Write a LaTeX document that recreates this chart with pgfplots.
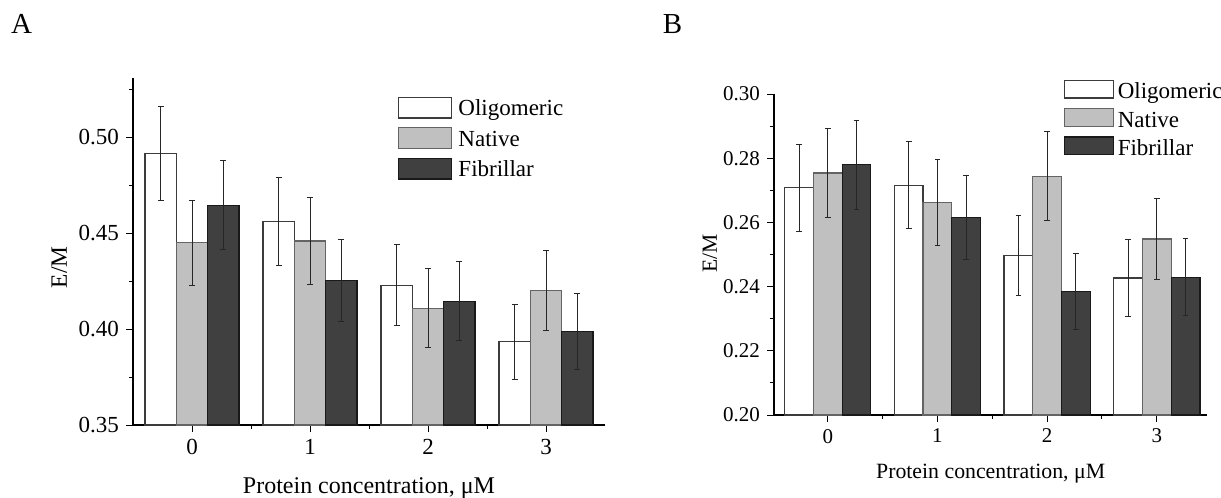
\documentclass[border=0pt]{standalone}
\usepackage{fontspec}
\setmainfont{Liberation Serif}
\usepackage{pgfplots}
\usepackage{pgfplotstable}
\pgfplotsset{compat=1.18}

\definecolor{oliedge}{RGB}{60,60,60}
\definecolor{natfill}{RGB}{192,192,192}
\definecolor{natedge}{RGB}{100,100,100}
\definecolor{fibfill}{RGB}{64,64,64}
\definecolor{fibedge}{RGB}{25,25,25}

% x, value, error for each group
\pgfplotstableread{
x olig oe nat ne fib fe
0 0.4915 0.0245 0.4451 0.0222 0.4647 0.0234
1 0.4560 0.0230 0.4460 0.0225 0.4255 0.0213
2 0.4229 0.0212 0.4109 0.0205 0.4146 0.0207
3 0.3935 0.0196 0.4203 0.0209 0.3988 0.0199
}\dataA
\pgfplotstableread{
x olig oe nat ne fib fe
0 0.2708 0.0136 0.2754 0.0138 0.2780 0.0139
1 0.2716 0.0136 0.2662 0.0133 0.2615 0.0130
2 0.2496 0.0125 0.2744 0.0138 0.2385 0.0119
3 0.2427 0.0121 0.2548 0.0127 0.2429 0.0120
}\dataB

\pgfplotsset{
  panel/.style={
    scale only axis,
    axis x line*=bottom, axis y line*=left,
    axis line style={-, line width=0.6pt, black},
    tick align=outside,
    major tick length=3.5pt, minor tick length=2pt,
    every tick/.style={line width=0.5pt, black},
    xtick={0,1,2,3}, minor xtick={0.5,1.5,2.5},
    /pgf/number format/assume math mode=true,
    yticklabel style={/pgf/number format/.cd, fixed, fixed zerofill, precision=2},
    ybar=0pt,
    legend cell align=left,
  },
  bars/.style={line width=0.6pt,
    /pgfplots/error bars/y dir=both, /pgfplots/error bars/y explicit,
    /pgfplots/error bars/error bar style={line width=0.5pt, black!85},
    /pgfplots/error bars/error mark options={rotate=90, mark size=1.45pt, line width=0.5pt, black!85}},
  oli/.style={bars, fill=white, draw=oliedge},
  nat/.style={bars, fill=natfill, draw=natedge},
  fib/.style={bars, fill=fibfill, draw=fibedge},
}

\begin{document}
\begin{tikzpicture}
\useasboundingbox (0,0) rectangle (610.5pt,-249pt);

\node[font=\fontsize{14.5}{17}\selectfont] at (10.85pt,-12pt) {A};
\node[font=\fontsize{14.5}{17}\selectfont] at (336.25pt,-12pt) {B};

% panel A
\begin{axis}[panel,
  at={(66.5pt,-212.5pt)}, anchor=south west,
  width=236pt, height=173.5pt,
  xmin=-0.5, xmax=3.5, ymin=0.35, ymax=0.531,
  ytick={0.35,0.40,0.45,0.50}, minor ytick={0.375,0.425,0.475,0.525},
  bar width=0.265,
  ticklabel style={font=\fontsize{11.5}{13}\selectfont},
  xlabel={Protein concentration, μM}, ylabel={E/M},
  every axis x label/.style={at={(axis description cs:0.5,-0.182)}, anchor=center, font=\fontsize{12}{14}\selectfont},
  every axis y label/.style={at={(axis description cs:-0.156,0.454)}, rotate=90, anchor=center, font=\fontsize{11.7}{14}\selectfont},
  legend image code/.code={\draw[#1, line width=0.6pt] (0pt,-1.15pt) rectangle (26.5pt,9.15pt);},
  legend style={at={(axis description cs:0.562,0.946)}, anchor=north west,
    draw=none, fill=none, inner sep=0pt, outer sep=0pt, row sep=4.35pt,
    cells={anchor=base west},
    nodes={inner sep=0pt, text height=9.2pt, text depth=1.15pt, font=\fontsize{11.5}{13}\selectfont},
    /tikz/every odd column/.append style={column sep=3pt}},
]
\addplot[oli] table[x=x, y=olig, y error=oe] {\dataA};
\addlegendentry{Oligomeric}
\addplot[nat] table[x=x, y=nat, y error=ne] {\dataA};
\addlegendentry{Native}
\addplot[fib] table[x=x, y=fib, y error=fe] {\dataA};
\addlegendentry{Fibrillar}
\end{axis}

% panel B
\begin{axis}[panel,
  at={(387pt,-207.5pt)}, anchor=south west,
  width=216.65pt, height=160.5pt,
  xmin=-0.49, xmax=3.46, ymin=0.20, ymax=0.30,
  ytick={0.20,0.22,0.24,0.26,0.28,0.30}, minor ytick={0.21,0.23,0.25,0.27,0.29},
  bar width=0.262,
  ticklabel style={font=\fontsize{10.5}{12}\selectfont},
  xlabel={Protein concentration, μM}, ylabel={E/M},
  every axis x label/.style={at={(axis description cs:0.5,-0.182)}, anchor=center, font=\fontsize{10.9}{13}\selectfont},
  every axis y label/.style={at={(axis description cs:-0.148,0.504)}, rotate=90, anchor=center, font=\fontsize{10.8}{13}\selectfont},
  legend image code/.code={\draw[#1, line width=0.6pt] (0pt,0.5pt) rectangle (24.35pt,9.15pt);},
  legend style={at={(axis description cs:0.669,1.0436)}, anchor=north west,
    draw=none, fill=none, inner sep=0pt, outer sep=0pt, row sep=3.65pt,
    cells={anchor=base west},
    nodes={inner sep=0pt, text height=9.2pt, text depth=1pt, font=\fontsize{11.5}{13}\selectfont},
    /tikz/every odd column/.append style={column sep=2pt}},
]
\addplot[oli] table[x=x, y=olig, y error=oe] {\dataB};
\addlegendentry{Oligomeric}
\addplot[nat] table[x=x, y=nat, y error=ne] {\dataB};
\addlegendentry{Native}
\addplot[fib] table[x=x, y=fib, y error=fe] {\dataB};
\addlegendentry{Fibrillar}
\end{axis}
\end{tikzpicture}
\end{document}
